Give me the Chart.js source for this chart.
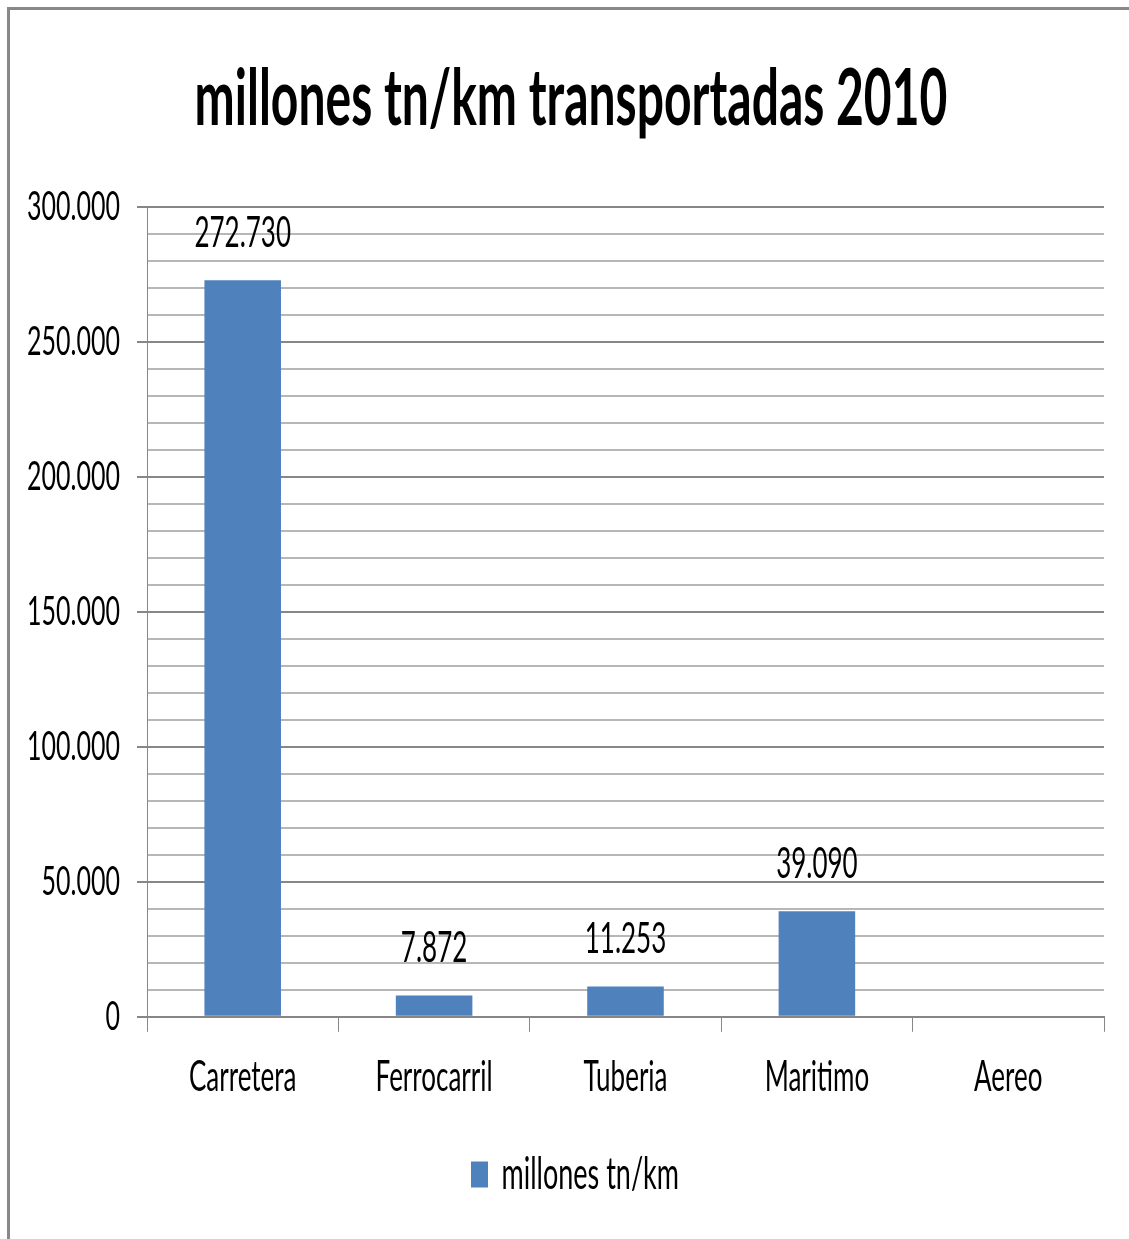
<!DOCTYPE html>
<html>
<head>
<meta charset="utf-8">
<script src="https://cdn.jsdelivr.net/npm/chart.js@4/dist/chart.umd.min.js"></script>
<style>
  html, body { margin: 0; padding: 0; background: #ffffff; }
  #wrap { position: relative; width: 1129px; height: 1239px; }
  canvas { display: block; }
</style>
</head>
<body>
<div id="wrap"><canvas id="c" width="1129" height="1239"></canvas></div>
<script>
// ---- data ----
const chartTitle = 'millones tn/km transportadas 2010';
const seriesName = 'millones tn/km';
const categories = ['Carretera', 'Ferrocarril', 'Tuberia', 'Maritimo', 'Aereo'];
const values = [272730, 7872, 11253, 39090, null];
const yMin = 0;
const yMax = 300000;
const yMajorStep = 50000;
const yMinorStep = 10000;

// ---- style ----
const FONT = 'Lato, "Open Sans", "DejaVu Sans", sans-serif';
const SY = 1.65;              // vertical stretch applied to all text
const BAR = '#4F81BD';
const MAJOR = '#878787';
const MINOR = '#B7B7B7';

function fmt(v) {
  return String(v).replace(/\B(?=(\d{3})+(?!\d))/g, '.');
}

const stretchText = {
  id: 'stretchText',
  beforeInit(chart) {
    const ctx = chart.ctx;
    const orig = CanvasRenderingContext2D.prototype.fillText;
    ctx.fillText = function (t, x, y, mw) {
      this.save();
      this.translate(x, y);
      this.scale(1, SY);
      if (mw === undefined) orig.call(this, t, 0, 0); else orig.call(this, t, 0, 0, mw);
      this.restore();
    };
  }
};

const shiftBlocks = {
  id: 'shiftBlocks',
  afterLayout(chart) {
    if (chart.titleBlock) { chart.titleBlock.left += 12; chart.titleBlock.right += 12; }
    if (chart.legend) { chart.legend.left += 16; chart.legend.right += 16; }
  }
};

const frame = {
  id: 'frame',
  beforeDraw(chart) {
    const ctx = chart.ctx;
    ctx.save();
    ctx.fillStyle = '#ffffff';
    ctx.fillRect(0, 0, chart.width, chart.height);
    ctx.strokeStyle = '#888888';
    ctx.lineWidth = 3;
    ctx.beginPath();
    ctx.moveTo(8.5, chart.height + 5);
    ctx.lineTo(8.5, 8.5);
    ctx.lineTo(chart.width + 5, 8.5);
    ctx.stroke();
    ctx.restore();
  }
};

const valueLabels = {
  id: 'valueLabels',
  afterDatasetsDraw(chart) {
    const ctx = chart.ctx;
    const meta = chart.getDatasetMeta(0);
    ctx.save();
    ctx.font = '26px ' + FONT;
    ctx.fillStyle = '#000000';
    ctx.textAlign = 'center';
    ctx.textBaseline = 'middle';
    meta.data.forEach((el, i) => {
      const v = chart.data.datasets[0].data[i];
      if (v === null || v === undefined) return;
      ctx.fillText(fmt(v), el.x, el.y - 47);
    });
    ctx.restore();
  }
};

new Chart(document.getElementById('c'), {
  type: 'bar',
  data: {
    labels: categories,
    datasets: [{
      label: seriesName,
      data: values,
      backgroundColor: BAR,
      borderWidth: 0,
      barPercentage: 0.4,
      categoryPercentage: 1.0
    }]
  },
  plugins: [stretchText, shiftBlocks, frame, valueLabels],
  options: {
    responsive: false,
    animation: false,
    devicePixelRatio: 1,
    layout: { padding: { left: 14, right: 25, top: 0, bottom: 41 } },
    plugins: {
      title: {
        display: true,
        text: chartTitle,
        color: '#000000',
        font: { family: FONT, size: 48, weight: 'bold', lineHeight: 1.2 },
        padding: { top: 71, bottom: 78 }
      },
      legend: {
        display: true,
        position: 'bottom',
        labels: {
          color: '#000000',
          font: { family: FONT, size: 27 },
          boxWidth: 17,
          boxHeight: 26,
          padding: 10
        }
      },
      tooltip: { enabled: false }
    },
    scales: {
      x: {
        afterFit(scale) { scale.height += 28; },
        grid: {
          display: true,
          drawOnChartArea: false,
          drawTicks: true,
          tickLength: 15,
          color: MAJOR,
          lineWidth: 1,
          offset: true
        },
        border: { display: true, color: MAJOR, width: 2 },
        ticks: {
          color: '#000000',
          font: { family: FONT, size: 26, lineHeight: 1.2 },
          padding: 30,
          maxRotation: 0,
          autoSkip: false
        }
      },
      y: {
        min: yMin,
        max: yMax,
        afterFit(scale) { scale.width = 133; },
        grid: {
          display: true,
          drawTicks: true,
          tickLength: 10,
          lineWidth: 2,
          color: (c) => (c.tick && c.tick.value % yMajorStep === 0) ? MAJOR : MINOR,
          tickColor: (c) => (c.tick && c.tick.value % yMajorStep === 0) ? MAJOR : 'rgba(0,0,0,0)'
        },
        border: { display: true, color: MAJOR, width: 1 },
        ticks: {
          stepSize: yMinorStep,
          maxTicksLimit: 100,
          autoSkip: false,
          color: '#000000',
          font: { family: FONT, size: 25, lineHeight: 1.2 },
          padding: 17,
          callback: (v) => (v % yMajorStep === 0) ? fmt(v) : ''
        }
      }
    }
  }
});
</script>
</body>
</html>
